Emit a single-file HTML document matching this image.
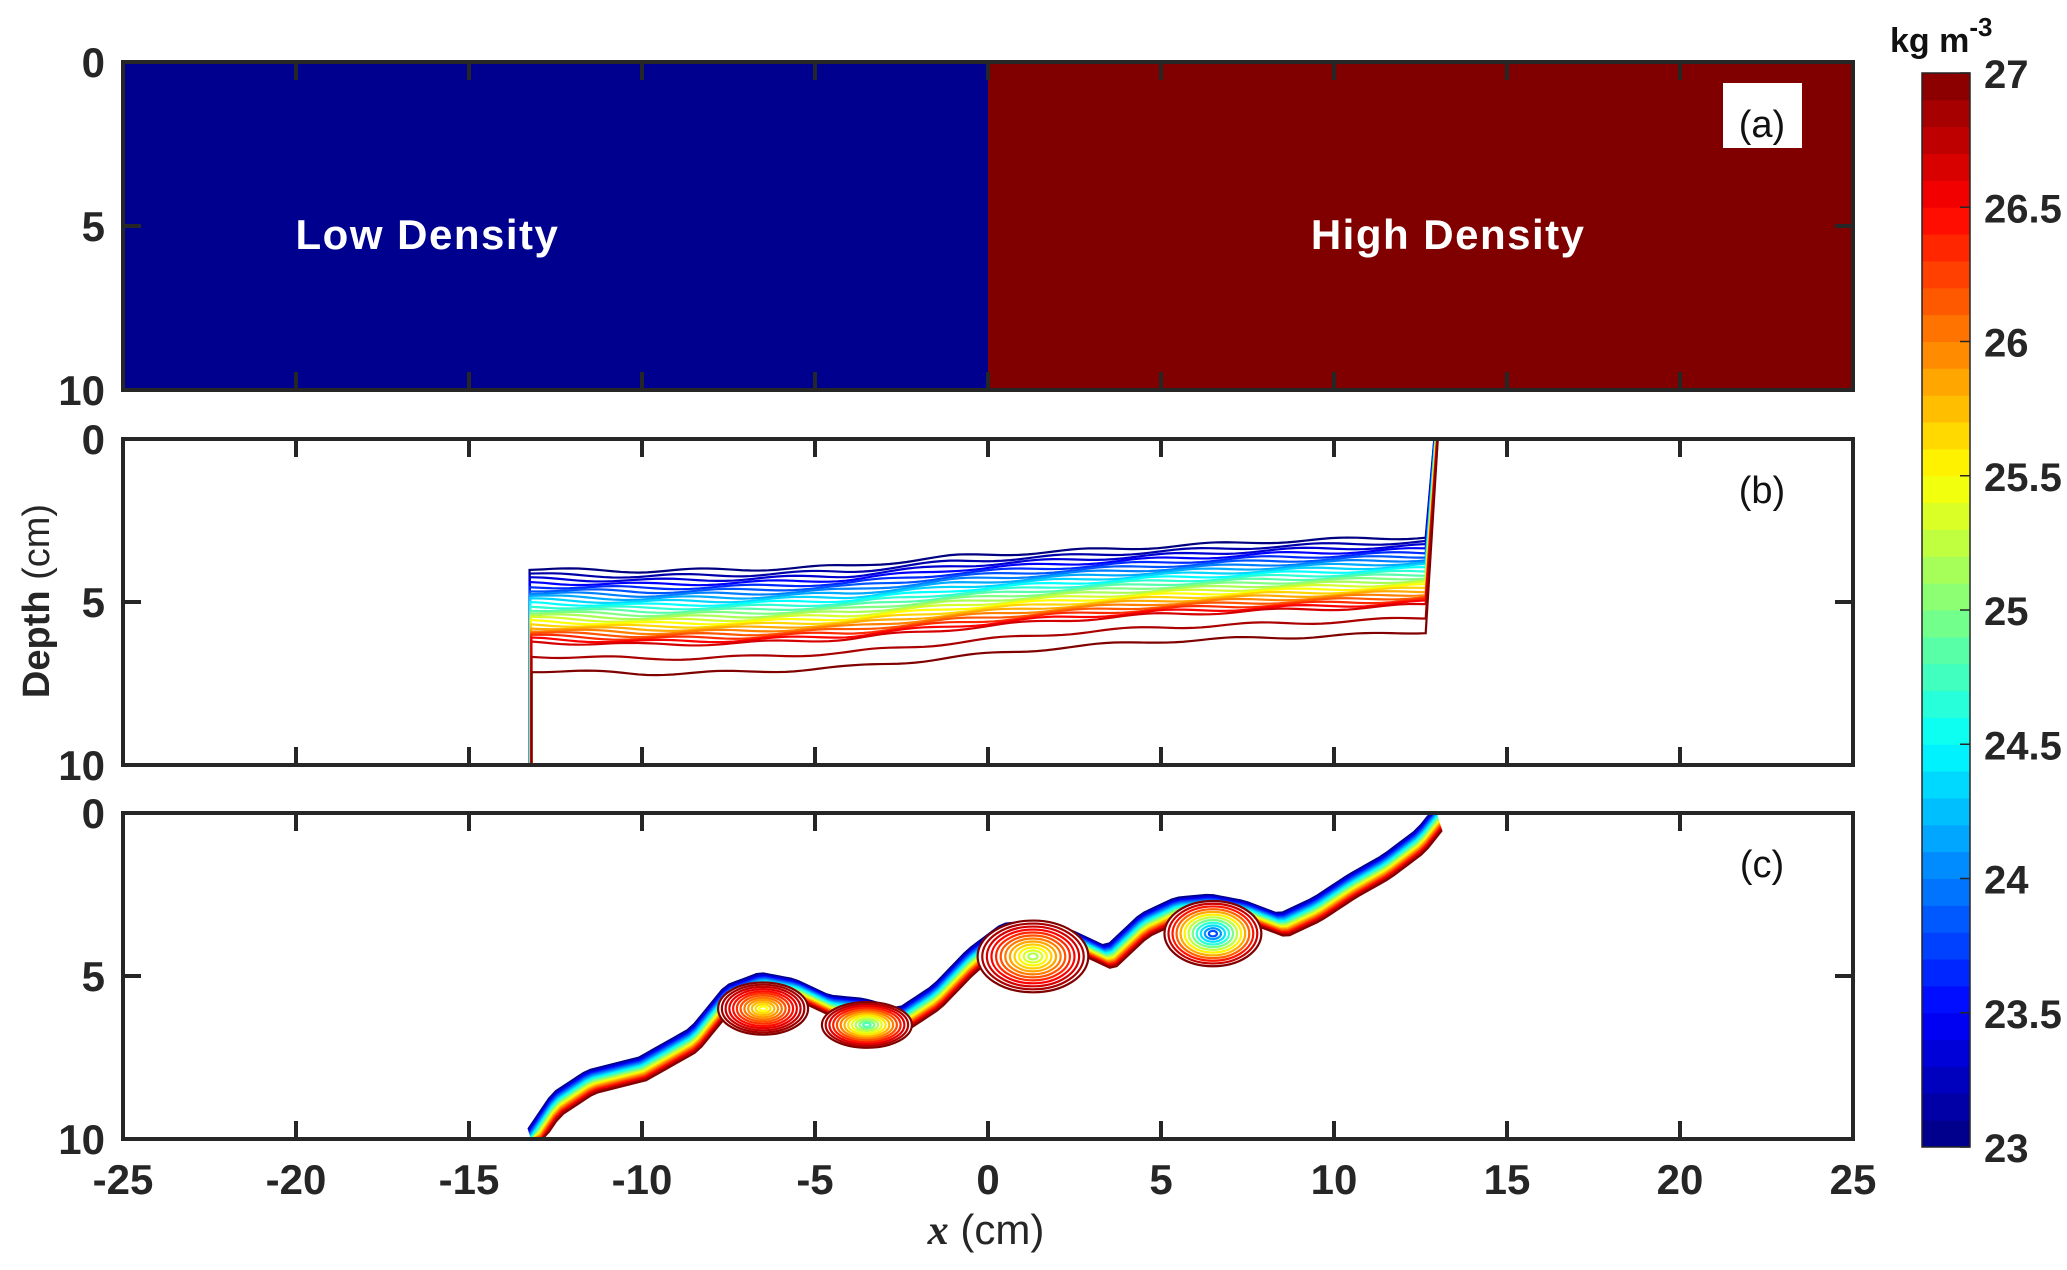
<!DOCTYPE html>
<html><head><meta charset="utf-8"><style>
body{margin:0;background:#fff}
svg{display:block;font-family:"Liberation Sans",Arial,sans-serif;font-weight:bold}
</style></head><body>
<svg id="fig" width="2067" height="1270" viewBox="0 0 2067 1270"></svg>
<script>
const xTicks=[-25,-20,-15,-10,-5,0,5,10,15,20,25];
const yTicks=[0,5,10];
const cbTicks=[23,23.5,24,24.5,25,25.5,26,26.5,27];
const levels=[];for(let i=0;i<25;i++)levels.push(23+i*4/24);
// panel b interface profiles
const bX=[-13.2,-10,-7,-4,-1,2,5,8,11,12.8];
const bTop=[4.0,4.05,4.0,3.9,3.6,3.45,3.3,3.15,3.05,3.0];
const bBot=[7.1,7.2,7.15,7.0,6.7,6.4,6.2,6.1,6.0,5.9];
// panel c centerline
const cX=[-13.2,-12.5,-11.5,-10,-8.5,-7.5,-6.5,-5.5,-4.5,-3.5,-2.5,-1.5,-0.5,0.5,1.5,2.5,3.5,4.5,5.5,6.5,7.5,8.5,9.5,10.5,11.5,12.5,13.1];
const cD=[10,8.9,8.2,7.8,6.9,5.6,5.2,5.4,5.9,6.0,6.3,5.6,4.5,3.7,3.6,3.9,4.4,3.4,2.9,2.8,3.0,3.4,2.9,2.2,1.6,0.8,0];
const vX=[-6.5,-3.5,1.3,6.5];
const vD=[6.0,6.5,4.4,3.7];
const vRx=[1.3,1.3,1.6,1.4];
const vRy=[0.8,0.7,1.1,1.0];
const vCore=[25.5,24.8,25.2,23.8];

const NS="http://www.w3.org/2000/svg";
const svg=document.getElementById('fig');
function el(t,a,p){const e=document.createElementNS(NS,t);for(const k in a)e.setAttribute(k,a[k]);(p||svg).appendChild(e);return e;}
const L=123,R=1853;
const X=v=>L+(v+25)*(R-L)/50;
const panels=[{top:62,bot:390,lab:'a'},{top:439,bot:765,lab:'b'},{top:813,bot:1139,lab:'c'}];
function jet(v){const t=(v-23)/4;const f=x=>Math.max(0,Math.min(1,x));
const r=f(1.5-Math.abs(4*t-3)),g=f(1.5-Math.abs(4*t-2)),b=f(1.5-Math.abs(4*t-1));
return `rgb(${Math.round(r*255)},${Math.round(g*255)},${Math.round(b*255)})`;}
function interp(xs,ys,x){for(let i=0;i<xs.length-1;i++){if(x>=xs[i]&&x<=xs[i+1]){const t=(x-xs[i])/(xs[i+1]-xs[i]);return ys[i]+t*(ys[i+1]-ys[i]);}}return x<xs[0]?ys[0]:ys[ys.length-1];}
function warp(t){
 if(t<0.75)return 0.6*Math.pow(t/0.75,0.85);
 if(t<0.92)return 0.6+0.12*(t-0.75)/0.17;
 return 0.72+0.28*(t-0.92)/0.08;
}

panels.forEach((p,pi)=>{
 const Y=d=>p.top+d*(p.bot-p.top)/10;
 const g=el('g',{});
 
 
 if(pi===0){
  const lo=el('rect',{x:X(-25),y:Y(0),width:X(0)-X(-25),height:Y(10)-Y(0),fill:'#00008f'},g);
  
  const hi=el('rect',{x:X(0),y:Y(0),width:X(25)-X(0),height:Y(10)-Y(0),fill:'#800000'},g);
  
  const t1=el('text',{x:X(-16.2),y:Y(5.7),fill:'#fff','font-size':42,'letter-spacing':1.5,'text-anchor':'middle'},g);t1.textContent='Low Density';
  
  const t2=el('text',{x:X(13.3),y:Y(5.7),fill:'#fff','font-size':42,'letter-spacing':1.5,'text-anchor':'middle'},g);t2.textContent='High Density';
  
  const b=el('rect',{x:1723,y:83,width:79,height:65,fill:'#fff'},g);
  
 }
 if(pi===1){
  levels.forEach((lv,i)=>{
   const f=i/24;const w=warp(f);
   let pts=[];
   const x0=-13.25+0.06*f, x1=12.9+0.1*f;
   pts.push([X(x0),Y(10)]);
   for(let x=-13.1;x<=12.75;x+=0.25){const d=interp(bX,bTop,x)*(1-w)+interp(bX,bBot,x)*w+0.05*Math.sin(x*1.7+i);pts.push([X(x),Y(d)]);}
   pts.push([X(x1),Y(0)]);
   pts[1][0]=X(x0);
   const pl=el('polyline',{points:pts.map(q=>q.join(',')).join(' '),fill:'none',stroke:jet(lv),'stroke-width':2.2},g);
   
  });
 }
 if(pi===2){
  levels.forEach((lv,i)=>{
   const off=-0.3+0.7*i/24;
   let pts=[];
   for(let x=-13.2;x<=13.1;x+=0.2){const d=Math.max(0,Math.min(10,interp(cX,cD,x)+off));pts.push([X(x+off*0.3),Y(d)]);}
   const pl=el('polyline',{points:pts.map(q=>q.join(',')).join(' '),fill:'none',stroke:jet(lv),'stroke-width':2},g);
   
  });
  vX.forEach((vx,k)=>{
   const n=12;
   for(let j=0;j<n;j++){
    const s=1-j/n;const lv=27+(vCore[k]-27)*(j/(n-1));
    const e=el('ellipse',{cx:X(vx),cy:Y(vD[k]),rx:vRx[k]*s*(R-L)/50,ry:vRy[k]*s*(p.bot-p.top)/10,fill:j===0?'#fff':'none',stroke:jet(lv),'stroke-width':2.2},g);
    
   }
  });
 }
 const lab=el('text',{x:1762,y:p.top+(pi===0?75:64),'font-size':38,'font-weight':'normal','text-anchor':'middle',fill:'#111'},g);
 lab.textContent='('+p.lab+')';
 
 const fr=el('rect',{x:L,y:p.top,width:R-L,height:p.bot-p.top,fill:'none',stroke:'#262626','stroke-width':4},g);
 
 xTicks.forEach(v=>{
  el('line',{x1:X(v),x2:X(v),y1:p.top,y2:p.top+18,stroke:'#262626','stroke-width':4},g);
  el('line',{x1:X(v),x2:X(v),y1:p.bot,y2:p.bot-18,stroke:'#262626','stroke-width':4},g);
 });
 yTicks.forEach(v=>{
  el('line',{x1:L,x2:L+18,y1:Y(v),y2:Y(v),stroke:'#262626','stroke-width':4},g);
  el('line',{x1:R,x2:R-18,y1:Y(v),y2:Y(v),stroke:'#262626','stroke-width':4},g);
  const t=el('text',{x:L-18,y:Y(v)+15,'font-size':42,'text-anchor':'end',fill:'#262626'},g);
  t.textContent=v;
  
 });
});
xTicks.forEach(v=>{
 const t=el('text',{x:X(v),y:1194,'font-size':42,'text-anchor':'middle',fill:'#262626'});
 t.textContent=v;
 
});
const xl=el('text',{x:986,y:1244,'font-size':42,'font-weight':'normal','text-anchor':'middle',fill:'#262626'});
xl.innerHTML='<tspan font-family="Liberation Serif" font-style="italic" font-weight="bold">x</tspan> (cm)';

const yl=el('text',{x:0,y:0,'font-size':38,'text-anchor':'middle',fill:'#262626',transform:'translate(49,601) rotate(-90)'});
yl.innerHTML='Depth <tspan font-weight="normal">(cm)</tspan>';

// colorbar
const CT=73,CB=1147,CL=1922,CR=1970;
const CY=v=>CB-(v-23)*(CB-CT)/4;
const cb=el('g',{});

for(let i=0;i<40;i++){const v0=23+i*0.1;
 el('rect',{x:CL,y:CY(v0+0.1),width:CR-CL,height:CY(v0)-CY(v0+0.1)+0.5,fill:jet(v0+0.05)},cb);}
el('rect',{x:CL,y:CT,width:CR-CL,height:CB-CT,fill:'none',stroke:'#262626','stroke-width':1.5},cb);
cbTicks.forEach(v=>{
 el('line',{x1:CR-10,x2:CR,y1:CY(v),y2:CY(v),stroke:'#262626','stroke-width':1.5},cb);
 const t=el('text',{x:CR+14,y:CY(v)+15,'font-size':40,fill:'#262626'},cb);
 t.textContent=v;
 
});
const ut=el('text',{x:1890,y:52,'font-size':34,fill:'#111'});
ut.innerHTML='kg m<tspan dy="-16" font-size="26">-3</tspan>';

</script>
</body></html>
